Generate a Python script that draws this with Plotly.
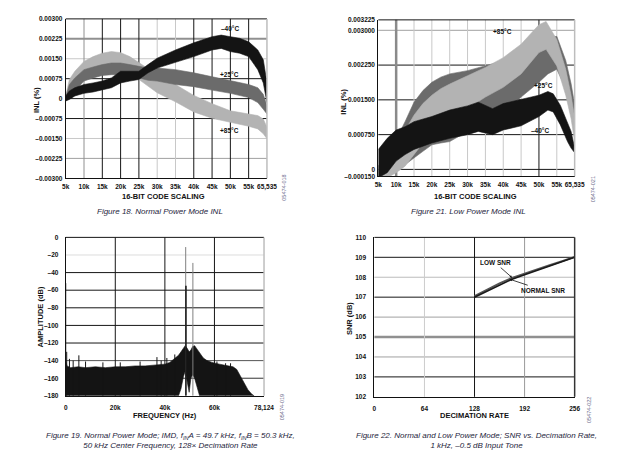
import plotly.graph_objects as go

# page body has an 8px margin: the figure is sized so it fits exactly in the 620x459 window
OFF = 8
FW, FH = 620 - 2 * OFF, 459 - 2 * OFF
def px(x): return (x - OFF) / FW
def py(y): return 1 - (y - OFF) / FH

# ---------------- DATA ----------------
# Figure 18 (Normal power INL), code axis, INL band (upper/lower) per temperature
n_m40_x = [5000, 6000, 7500, 10000, 12500, 15000, 17500, 20000, 22500, 25000, 27500, 30000,
           35000, 40000, 45000, 47500, 50000, 52500, 55000, 57500, 59000, 60000]
n_m40_hi = [0.00010, 0.00029, 0.00041, 0.00053, 0.00059, 0.00066, 0.00078, 0.00103, 0.00103, 0.00103, 0.00128, 0.00152,
            0.00183, 0.00210, 0.00233, 0.00239, 0.00233, 0.00227, 0.00214, 0.00183, 0.00146, 0.00059]
n_m40_lo = [-0.00009, -0.00003, 0.00010, 0.00020, 0.00025, 0.00032, 0.00041, 0.00059, 0.00066, 0.00072, 0.00097, 0.00115,
            0.00136, 0.00158, 0.00183, 0.00189, 0.00177, 0.00171, 0.00158, 0.00109, 0.00059, -0.00015]
n_x = [5000, 6000, 7500, 10000, 12500, 15000, 17500, 20000, 22500, 25000, 27500, 30000,
       35000, 40000, 45000, 50000, 55000, 57500, 59000, 60000]
n_p25_hi = [0.00007, 0.00053, 0.00078, 0.00109, 0.00119, 0.00128, 0.00134, 0.00134, 0.00128, 0.00121, 0.00115, 0.00115,
            0.00109, 0.00097, 0.00082, 0.00066, 0.00053, 0.00041, 0.00016, -0.00027]
n_p25_lo = [-0.00009, 0.00004, 0.00029, 0.00066, 0.00078, 0.00087, 0.00090, 0.00090, 0.00084, 0.00078, 0.00069, 0.00066,
            0.00053, 0.00045, 0.00032, 0.00020, 0.00004, -0.00015, -0.00040, -0.00058]
n_p85_hi = [0.00010, 0.00072, 0.00103, 0.00140, 0.00158, 0.00171, 0.00177, 0.00173, 0.00158, 0.00136, 0.00115, 0.00090,
            0.00053, 0.00012, -0.00019, -0.00046, -0.00058, -0.00064, -0.00077, -0.00108]
n_p85_lo = [-0.00005, 0.00016, 0.00047, 0.00090, 0.00109, 0.00119, 0.00124, 0.00115, 0.00097, 0.00072, 0.00047, 0.00022,
            -0.00012, -0.00050, -0.00074, -0.00089, -0.00104, -0.00114, -0.00132, -0.00151]

# Figure 21 (Low power INL)
l_m40_x = [5000, 7500, 10000, 12500, 15000, 20000, 25000, 30000, 33000, 35000, 37000, 40000,
           45000, 50000, 52500, 54000, 56000, 58000, 59000, 60000]
l_m40_hi = [0.00043, 0.00067, 0.00085, 0.00092, 0.00103, 0.00114, 0.00128, 0.00137, 0.00145, 0.00138, 0.00131, 0.00142,
            0.00151, 0.00160, 0.00168, 0.00163, 0.00138, 0.00103, 0.00082, 0.00046]
l_m40_lo = [-0.00018, -0.00007, 0.00018, 0.00032, 0.00043, 0.00057, 0.00067, 0.00075, 0.00082, 0.00078, 0.00075, 0.00085,
            0.00094, 0.00114, 0.00128, 0.00124, 0.00096, 0.00060, 0.00046, 0.00036]
l_x = [5000, 7500, 10000, 12500, 15000, 17500, 20000, 22500, 25000, 30000, 35000, 40000,
       45000, 50000, 52500, 55000, 57500, 59000, 60000]
l_p25_hi = [0.00007, 0.00036, 0.00064, 0.00103, 0.00145, 0.00170, 0.00188, 0.00199, 0.00206, 0.00213, 0.00223, 0.00234,
            0.00252, 0.00270, 0.00284, 0.00287, 0.00235, 0.00185, 0.00140]
l_p25_lo = [-0.00018, -0.00014, -0.00004, 0.00011, 0.00025, 0.00039, 0.00053, 0.00057, 0.00060, 0.00082, 0.00099, 0.00121,
            0.00156, 0.00188, 0.00206, 0.00216, 0.00175, 0.00135, 0.00090]
l_p85_x = [5000, 7500, 10000, 12500, 15000, 17500, 20000, 22500, 25000, 30000, 35000, 40000,
           45000, 50000, 52000, 55000, 57500, 59000, 60000]
l_p85_hi = [0.00004, 0.00025, 0.00050, 0.00085, 0.00117, 0.00142, 0.00160, 0.00174, 0.00184, 0.00202, 0.00220, 0.00241,
            0.00270, 0.00312, 0.00319, 0.00280, 0.00216, 0.00160, 0.00112]
l_p85_lo = [-0.00021, -0.00018, -0.00007, 0.00007, 0.00032, 0.00057, 0.00078, 0.00096, 0.00106, 0.00131, 0.00156, 0.00177,
            0.00206, 0.00252, 0.00259, 0.00223, 0.00160, 0.00110, 0.00060]

code_ticks = [5000, 10000, 15000, 20000, 25000, 30000, 35000, 40000, 45000, 50000, 55000, 60000]
code_labels = ["5k", "10k", "15k", "20k", "25k", "30k", "35k", "40k", "45k", "50k", "55k", "65,535"]
inl_n_ticks = [0.003, 0.00225, 0.0015, 0.00075, 0, -0.00075, -0.0015, -0.00225, -0.003]
inl_n_labels = ["0.00300", "0.00225", "0.00150", "0.00075", "0", "–0.00075", "–0.00150", "–0.00225", "–0.00300"]
inl_l_ticks = [0.003225, 0.003, 0.00225, 0.0015, 0.00075, 0, -0.00015]
inl_l_labels = ["0.003225", "0.003000", "0.002250", "0.001500", "0.000750", "0", "–0.000150"]

# Figure 19 (IMD FFT)
noise_f = [0, 500, 2000, 5000, 8000, 12000, 16000, 20000, 24000, 28000, 32000, 36000, 40000, 42000, 44000,
           45500, 46500, 47500, 48200, 49000, 49800, 50500, 51200, 52000, 53000, 54000, 55500, 57000, 59000,
           62000, 65000, 67500, 69000, 70500, 72000, 73500, 75000, 76000]
noise_top = [-140, -146, -148, -147, -148, -147, -148, -147, -147, -146, -146, -145, -144, -142, -138,
             -134, -130, -126, -123, -126, -130, -128, -124, -123, -127, -132, -137, -140, -142,
             -144, -146, -147, -150, -158, -166, -173, -178, -180]
noise_bot = [-180, -180, -180, -180, -180, -180, -180, -180, -180, -180, -180, -180, -180, -180, -180,
             -180, -172, -158, -152, -162, -176, -160, -156, -160, -170, -180, -180, -180, -180,
             -180, -180, -180, -180, -180, -180, -180, -180, -180]
spur_f = [0, 400, 1500, 3000, 5300, 8000, 15000, 22000, 30000, 36800, 38500, 40800, 44000, 61000, 64500, 66500]
spur_db = [-52, -130, -138, -140, -134, -141, -142, -142, -141, -136, -140, -137, -133, -141, -143, -143]
tone_f = [48400, 51300]
tone_db = [-11, -29]
tone_core_f = [48500]
tone_core_db = [-55]
freq_ticks = [0, 20000, 40000, 60000, 80000]
freq_labels = ["0", "20k", "40k", "60k", "78,124"]
amp_ticks = [0, -20, -40, -60, -80, -100, -120, -140, -160, -180]
amp_labels = ["0", "–20", "–40", "–60", "–80", "–100", "–120", "–140", "–160", "–180"]

# Figure 22 (SNR vs decimation)
dec_rate = [128, 144, 160, 176, 192, 208, 224, 240, 256]
snr_normal = [107.00, 107.30, 107.62, 107.90, 108.12, 108.33, 108.55, 108.78, 109.00]
snr_low = [107.05, 107.38, 107.69, 107.97, 108.19, 108.39, 108.60, 108.81, 109.02]
dec_ticks = [0, 64, 128, 192, 256]
snr_ticks = [102, 103, 104, 105, 106, 107, 108, 109, 110]

# ---------------- FIGURE ----------------
BLACK, DARK, LIGHT = "#141414", "#6b6b6b", "#b3b3b3"
fig = go.Figure()

def band(x, hi, lo, color, xa, ya):
    fig.add_trace(go.Scatter(x=list(x) + list(x)[::-1], y=list(hi) + list(lo)[::-1],
                             fill="toself", fillcolor=color, mode="lines",
                             line=dict(color=color, width=0.6), xaxis=xa, yaxis=ya,
                             showlegend=False, hoverinfo="skip"))

band(n_x, n_p85_hi, n_p85_lo, LIGHT, "x", "y")
band(n_x, n_p25_hi, n_p25_lo, DARK, "x", "y")
band(n_m40_x, n_m40_hi, n_m40_lo, BLACK, "x", "y")

band(l_x, l_p25_hi, l_p25_lo, DARK, "x2", "y2")
band(l_p85_x, l_p85_hi, l_p85_lo, LIGHT, "x2", "y2")
band(l_m40_x, l_m40_hi, l_m40_lo, BLACK, "x2", "y2")

band(noise_f, noise_top, noise_bot, BLACK, "x3", "y3")

def spikes(fs, dbs, color, width):
    xs, ys = [], []
    for f, d in zip(fs, dbs):
        xs += [f, f, None]
        ys += [-180, d, None]
    fig.add_trace(go.Scatter(x=xs, y=ys, mode="lines", line=dict(color=color, width=width),
                             xaxis="x3", yaxis="y3", showlegend=False, hoverinfo="skip"))

spikes(spur_f, spur_db, BLACK, 1)
spikes(tone_f, tone_db, "#808080", 1)
spikes(tone_core_f, tone_core_db, BLACK, 1.5)

fig.add_trace(go.Scatter(x=dec_rate, y=snr_low, mode="lines", line=dict(color="#555555", width=2),
                         xaxis="x4", yaxis="y4", showlegend=False))
fig.add_trace(go.Scatter(x=dec_rate, y=snr_normal, mode="lines", line=dict(color="#1a1a1a", width=1.6),
                         xaxis="x4", yaxis="y4", showlegend=False))

TICKFONT = dict(family="Liberation Sans, Arial, sans-serif", size=6.5, color="#111", weight="bold")

def xaxis(dom, rng, tv, tt, anchor, standoff=2):
    return dict(domain=dom, range=rng, tickvals=tv, ticktext=tt, anchor=anchor,
                showgrid=False, zeroline=False, showline=True, linecolor="#111", linewidth=1,
                ticks="", tickfont=TICKFONT, ticklabelstandoff=standoff)

def yaxis(dom, rng, tv, tt, anchor, standoff=2):
    return dict(domain=dom, range=rng, tickvals=tv, ticktext=tt, anchor=anchor,
                showgrid=False, zeroline=False, showline=True, linecolor="#111", linewidth=1,
                ticks="", tickfont=TICKFONT, ticklabelstandoff=standoff)

d1x, d1y = [px(63), px(269)], [py(177), py(15)]
d2x, d2y = [px(383), px(584)], [py(175), py(16)]
d3x, d3y = [px(63), px(266)], [py(398), py(237)]
d4x, d4y = [px(379), px(584)], [py(399), py(237)]

fig.update_layout(
    width=FW, height=FH, margin=dict(l=0, r=0, t=0, b=0),
    paper_bgcolor="white", plot_bgcolor="white",
    xaxis=xaxis(d1x, [5000, 60000], code_ticks, code_labels, "y"),
    yaxis=yaxis(d1y, [-0.003, 0.003], inl_n_ticks, inl_n_labels, "x", 1),
    xaxis2=xaxis(d2x, [5000, 60000], code_ticks, code_labels, "y2"),
    yaxis2=yaxis(d2y, [-0.00015, 0.003225], inl_l_ticks, inl_l_labels, "x2", 1),
    xaxis3=xaxis(d3x, [0, 80000], freq_ticks, freq_labels, "y3", 5),
    yaxis3=yaxis(d3y, [-180, 0], amp_ticks, amp_labels, "x3", 5),
    xaxis4=xaxis(d4x, [0, 256], dec_ticks, [str(v) for v in dec_ticks], "y4", 5),
    yaxis4=yaxis(d4y, [102, 110], snr_ticks, [str(v) for v in snr_ticks], "x4", 6),
)

shapes = []
def hgrid(xa, ya, v, color, w=1):
    shapes.append(dict(type="line", xref=f"{xa} domain", x0=0, x1=1, yref=ya, y0=v, y1=v,
                       line=dict(color=color, width=w), layer="below"))
def vgrid(xa, ya, v, color, w=1):
    shapes.append(dict(type="line", yref=f"{ya} domain", y0=0, y1=1, xref=xa, x0=v, x1=v,
                       line=dict(color=color, width=w), layer="below"))
def frame(xa, ya, top_color, right_color):
    shapes.append(dict(type="line", xref=f"{xa} domain", x0=0, x1=1, yref=f"{ya} domain", y0=1, y1=1,
                       line=dict(color=top_color, width=1), layer="above"))
    shapes.append(dict(type="line", xref=f"{xa} domain", x0=1, x1=1, yref=f"{ya} domain", y0=0, y1=1,
                       line=dict(color=right_color, width=1.5), layer="above"))

G, LG, K = "#909090", "#c8c8c8", "#161616"
# Plot 1 grid
for v, c, w in [(0.00225, G, 2), (0.0015, LG, 1), (0.00075, K, 1), (0, K, 1), (-0.00075, K, 1),
                (-0.0015, LG, 1), (-0.00225, "#a0a0a0", 1)]:
    hgrid("x", "y", v, c, w)
for v, c in [(10000, G), (15000, K), (20000, K), (25000, K), (30000, LG), (35000, LG),
             (40000, K), (45000, K), (50000, K), (55000, K)]:
    vgrid("x", "y", v, c)
frame("x", "y", K, "#bdbdbd")
# Plot 2 grid
for v, c, w in [(0.003, "#a0a0a0", 1), (0.00225, K, 1), (0.0015, K, 1), (0.00075, K, 1), (0, K, 1)]:
    hgrid("x2", "y2", v, c, w)
for v, c, w in [(10000, "#8a8a8a", 2.5), (15000, LG, 1), (20000, LG, 1), (25000, LG, 1), (30000, LG, 1),
                (35000, LG, 1), (40000, LG, 1), (45000, LG, 1), (50000, K, 1), (55000, LG, 1)]:
    vgrid("x2", "y2", v, c, w)
frame("x2", "y2", K, "#bdbdbd")
# Plot 3 grid
for v, c in [(-20, "#dddddd"), (-40, K), (-60, K), (-80, K), (-100, K), (-120, K), (-140, "#555"), (-160, "#333")]:
    hgrid("x3", "y3", v, c)
for v in [20000, 40000, 60000]:
    vgrid("x3", "y3", v, K)
frame("x3", "y3", K, "#bdbdbd")
# Plot 4 grid
for v, c, w in [(109, K, 1), (108, "#bbbbbb", 1), (107, K, 1), (106, "#a0a0a0", 1), (105, G, 2.5),
                (104, "#a0a0a0", 1), (103, K, 1)]:
    hgrid("x4", "y4", v, c, w)
for v, c in [(64, "#cccccc"), (128, K), (192, "#999999")]:
    vgrid("x4", "y4", v, c)
frame("x4", "y4", K, "#333333")
fig.update_layout(shapes=shapes)

ann = []
def text(x, y, s, size=7.5, angle=0, bold=True, italic=False, color="#111", family="Liberation Sans, Arial, sans-serif"):
    ann.append(dict(x=px(x), y=py(y), xref="paper", yref="paper", text=s, showarrow=False,
                    textangle=angle, xanchor="center", yanchor="middle",
                    font=dict(size=size, color=color, family=family,
                              weight="bold" if bold else "normal",
                              style="italic" if italic else "normal")))

# axis titles
text(163, 195, "16-BIT CODE SCALING")
text(483, 195, "16-BIT CODE SCALING")
text(165, 418, "FREQUENCY (Hz)")
text(481, 418, "DECIMATION RATE")
text(33, 97, "INL (%)", angle=-90)
text(347, 99, "INL (%)", angle=-90)
text(37, 318, "AMPLITUDE (dB)", angle=-90)
text(353, 320, "SNR (dB)", angle=-90)

# series labels
for x, y, s in [(231, 25, "–40°C"), (231, 71, "+25°C"), (231, 128, "+85°C"),
                (510, 28, "+85°C"), (552, 83, "+25°C"), (549, 128, "–40°C")]:
    text(x, y, s, size=6.5)

# captions
CAP = dict(size=8, bold=False, italic=True, color="#1e1e3c", family="Liberation Sans Narrow, Liberation Sans, Arial, sans-serif")
text(159, 211, "Figure 18. Normal Power Mode INL", **CAP)
text(475, 211, "Figure 21. Low Power Mode INL", **CAP)
text(170, 443, "Figure 19. Normal Power Mode; IMD, f<sub>IN</sub>A = 49.7 kHz, f<sub>IN</sub>B = 50.3 kHz,<br>50 kHz Center Frequency, 128× Decimation Rate", **CAP)
text(484, 443, "Figure 22. Normal and Low Power Mode; SNR vs. Decimation Rate,<br>1 kHz, –0.5 dB Input Tone", **CAP)

# figure ids
for x, y, s in [(287, 187, "05474-018"), (603, 188, "05474-021"), (284, 410, "05474-019"), (598, 412, "05474-022")]:
    text(x, y, s, size=5.5, angle=-90, bold=False, color="#6a6a8a")

# SNR curve labels with arrows
ann.append(dict(x=176, y=107.98, xref="x4", yref="y4", ax=-17, ay=-15, text="LOW SNR",
                showarrow=True, arrowhead=2, arrowsize=0.6, arrowwidth=0.8, arrowcolor="#111",
                font=dict(size=6.5, color="#111", family="Liberation Sans, Arial, sans-serif", weight="bold")))
ann.append(dict(x=173, y=107.9, xref="x4", yref="y4", ax=33, ay=11, text="NORMAL SNR",
                showarrow=True, arrowhead=2, arrowsize=0.6, arrowwidth=0.8, arrowcolor="#111",
                font=dict(size=6.5, color="#111", family="Liberation Sans, Arial, sans-serif", weight="bold")))
fig.update_layout(annotations=ann)

fig.write_html("out.html")
